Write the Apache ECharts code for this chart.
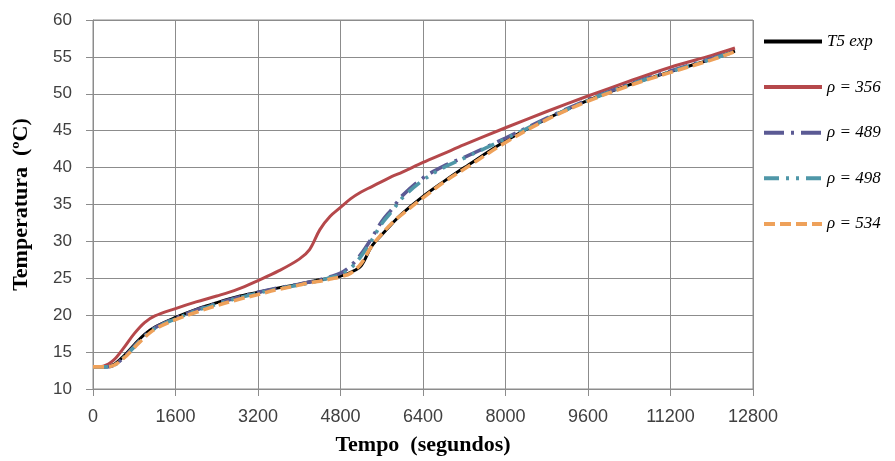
<!DOCTYPE html>
<html>
<head>
<meta charset="utf-8">
<script src="https://cdn.jsdelivr.net/npm/echarts@6/dist/echarts.min.js"></script>
<style>
  html, body { margin: 0; padding: 0; background: #ffffff; }
  #chart { width: 895px; height: 461px; }
</style>
</head>
<body>
<div id="chart"></div>
<script>
// Time in seconds, shared by every curve
const tempo = [0, 200, 400, 600, 800, 1000, 1200, 1600, 2000, 2400, 2800, 3200, 3600, 4000, 4200, 4400, 4600, 4800, 5000, 5200, 5400, 5600, 5800, 6000, 6400, 6800, 7200, 8000, 8800, 9600, 10400, 11200, 12000, 12450];

// Temperatures (ºC)
const t5exp = [13, 13, 13.3, 14.5, 16, 17.4, 18.4, 19.7, 20.8, 21.7, 22.5, 23.1, 23.7, 24.2, 24.5, 24.8, 25, 25.3, 25.8, 26.7, 29.3, 30.9, 32.4, 33.8, 36.1, 38.1, 40, 43.6, 46.6, 49.1, 51.2, 53, 54.7, 55.8];
const rho356 = [13, 13.1, 13.9, 15.6, 17.5, 19, 19.9, 20.9, 21.8, 22.6, 23.5, 24.7, 26, 27.6, 28.9, 31.6, 33.4, 34.6, 35.8, 36.7, 37.4, 38.1, 38.8, 39.4, 40.7, 41.9, 43.1, 45.4, 47.6, 49.7, 51.7, 53.6, 55.2, 56.2];
const rho489 = [13, 13, 13.2, 14.3, 15.8, 17.2, 18.3, 19.6, 20.7, 21.6, 22.4, 23.1, 23.7, 24.2, 24.5, 24.8, 25.2, 25.7, 26.7, 28.3, 30.4, 32.7, 34.4, 36.2, 38.6, 40.2, 41.4, 44, 46.7, 49.2, 51.3, 53.1, 54.8, 55.8];
const rho498 = [13, 13, 13.2, 14.3, 15.7, 17.1, 18.2, 19.5, 20.6, 21.5, 22.3, 23, 23.6, 24.1, 24.4, 24.7, 25.1, 25.5, 26.4, 28, 30.1, 32.4, 34.1, 35.9, 38.3, 40, 41.3, 43.9, 46.6, 49.1, 51.2, 53, 54.7, 55.7];
const rho534 = [13, 13, 13.2, 14.2, 15.6, 17, 18.1, 19.4, 20.4, 21.3, 22.1, 22.8, 23.5, 24.1, 24.4, 24.6, 24.9, 25.2, 25.7, 27, 29.3, 31, 32.5, 33.7, 35.9, 38, 39.8, 43.4, 46.5, 49, 51.1, 52.9, 54.6, 55.7];

// Axis ticks
const xTicks = { min: 0, max: 12800, step: 1600 };
const yTicks = { min: 10, max: 60, step: 5 };

const nomes = ['T5 exp', 'ρ = 356', 'ρ = 489', 'ρ = 498', 'ρ = 534'];
const valores = [t5exp, rho356, rho489, rho498, rho534];

const estilos = [
  { color: '#000000', width: 3, type: 'solid' },
  { color: '#b5484b', width: 3, type: 'solid' },
  { color: '#5b5a94', width: 3.6, type: [20, 7, 3, 7] },
  { color: '#4f97a8', width: 3.6, type: [15, 7, 3, 7, 3, 7] },
  { color: '#eea15a', width: 3.6, type: [11, 5] }
];

const gridColor = '#8c8c8c';

const chart = echarts.init(document.getElementById('chart'), null, { renderer: 'canvas' });

chart.setOption({
  backgroundColor: '#ffffff',
  animation: false,
  grid: {
    left: 93, right: 142, top: 20, bottom: 66,
    show: true, borderColor: gridColor, borderWidth: 1
  },
  legend: {
    orient: 'vertical',
    left: 762,
    top: 33,
    padding: 0,
    itemWidth: 58,
    itemHeight: 17,
    itemGap: 28.6,
    data: nomes,
    itemStyle: { opacity: 0 },
    lineStyle: { width: 4 },
    textStyle: {
      fontFamily: 'Liberation Serif',
      fontStyle: 'italic',
      fontSize: 17,
      color: '#000000'
    }
  },
  xAxis: {
    type: 'value',
    min: xTicks.min, max: xTicks.max, interval: xTicks.step,
    name: 'Tempo  (segundos)',
    nameLocation: 'middle',
    nameGap: 45,
    nameTextStyle: { fontFamily: 'Liberation Serif', fontWeight: 'bold', fontSize: 22, color: '#000000' },
    axisLine: { lineStyle: { color: gridColor, width: 1 } },
    axisTick: { show: true, inside: false, length: 7, lineStyle: { color: gridColor } },
    axisLabel: {
      margin: 19, fontFamily: 'Liberation Sans', fontSize: 18, color: '#404040',
      showMinLabel: true, showMaxLabel: true,
      formatter: v => String(v)
    },
    splitLine: { show: true, lineStyle: { color: gridColor, width: 1 } }
  },
  yAxis: {
    type: 'value',
    min: yTicks.min, max: yTicks.max, interval: yTicks.step,
    name: 'Temperatura  (ºC)',
    nameLocation: 'middle',
    nameGap: 61,
    nameTextStyle: { fontFamily: 'Liberation Serif', fontWeight: 'bold', fontSize: 22, color: '#000000' },
    axisLine: { show: true, lineStyle: { color: gridColor, width: 1 } },
    axisTick: { show: true, inside: false, length: 7, lineStyle: { color: gridColor } },
    axisLabel: { margin: 21, fontFamily: 'Liberation Sans', fontSize: 17, color: '#404040', formatter: v => String(v) },
    splitLine: { show: true, lineStyle: { color: gridColor, width: 1 } }
  },
  series: nomes.map((nome, i) => ({
    name: nome,
    type: 'line',
    data: tempo.map((t, k) => [t, valores[i][k]]),
    smooth: 0.35,
    symbol: 'none',
    lineStyle: { color: estilos[i].color, width: estilos[i].width, type: estilos[i].type },
    itemStyle: { color: estilos[i].color },
    z: 2 + i
  }))
});
</script>
</body>
</html>
